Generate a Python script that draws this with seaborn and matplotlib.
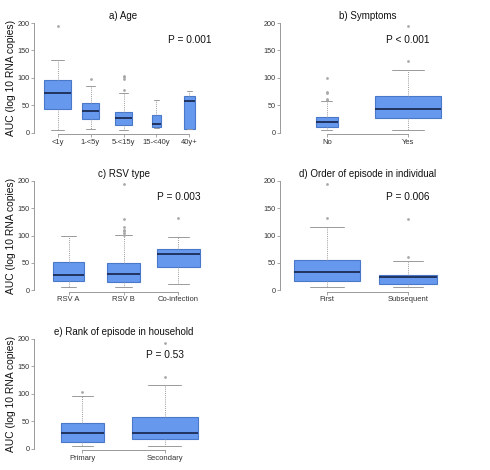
import numpy as np
import pandas as pd
import matplotlib
matplotlib.use("Agg")
import matplotlib.pyplot as plt
import seaborn as sns

# ---------------- data ----------------
# five-number summaries per group: [lower whisker, Q1, median, Q3, upper whisker]
age_cats = ["<1y", "1-<5y", "5-<15y", "15-<40y", "40y+"]
age_stats = [[5.5, 43.8, 71.7, 96.7, 132.5],
             [7.3, 25.5, 38.9, 54.7, 85.7],
             [5.5, 14.6, 26.7, 37.7, 71.7],
             [8.0, 10.5, 16.0, 33.0, 59.0],
             [6.0, 7.5, 58.0, 66.5, 75.5]]
age_out = [[195], [98.5], [104, 101, 98, 77], [], []]

sym_cats = ["No", "Yes"]
sym_stats = [[5.5, 10.3, 20.0, 29.2, 58.4],
             [5.5, 26.1, 43.8, 66.9, 115.0]]
sym_out = [[100, 75, 72, 62, 60], [131, 194]]

rsv_cats = ["RSV A", "RSV B", "Co-infection"]
rsv_stats = [[5.5, 16.5, 27.4, 52.4, 98.8],
             [5.5, 14.6, 29.3, 49.4, 101.0],
             [11.0, 42.7, 66.5, 76.2, 97.0]]
rsv_out = [[], [194, 130, 115, 111, 108, 105, 102], [133]]

ord_cats = ["First", "Subsequent"]
ord_stats = [[5.5, 16.5, 32.9, 56.1, 115.0],
             [5.5, 11.0, 23.8, 27.4, 53.0]]
ord_out = [[133, 194], [61, 130.5]]

rank_cats = ["Primary", "Secondary"]
rank_stats = [[4.9, 12.2, 29.2, 46.2, 96.7],
              [4.9, 17.0, 29.2, 57.1, 115.5]]
rank_out = [[104], [131, 193]]

titles = ["a) Age", "b) Symptoms", "c) RSV type",
          "d) Order of episode in individual", "e) Rank of episode in household"]
pvals = ["P = 0.001", "P < 0.001", "P = 0.003", "P = 0.006", "P = 0.53"]
ylabel = "AUC (log 10 RNA copies)"
yticks = [0, 50, 100, 150, 200]

# ---------------- styling ----------------
age_w = [0.80, 0.50, 0.54, 0.26, 0.35]
sym_w = [0.27, 0.81]
rsv_w = [0.56, 0.60, 0.78]
ord_w = [0.82, 0.72]
rank_w = [0.52, 0.80]

FILL = "#6699ee"
EDGE = "#4a78c8"
MED = "#1c2b55"
WHISK = "#9a9a9a"
SPINE = "#999999"

sns.set_theme(style="white")
plt.rcParams['font.family'] = ['Liberation Sans', 'DejaVu Sans']

fig = plt.figure(figsize=(4.9, 4.7), dpi=100)
positions = [[0.0704, 0.7149, 0.3633, 0.2389],
             [0.5714, 0.7149, 0.3570, 0.2389],
             [0.0704, 0.3794, 0.3633, 0.2385],
             [0.5714, 0.3794, 0.3570, 0.2385],
             [0.0704, 0.0423, 0.3633, 0.2394]]

panels = [(age_cats, age_stats, age_out, age_w),
          (sym_cats, sym_stats, sym_out, sym_w),
          (rsv_cats, rsv_stats, rsv_out, rsv_w),
          (ord_cats, ord_stats, ord_out, ord_w),
          (rank_cats, rank_stats, rank_out, rank_w)]

for i, (cats, stats, outs, widths) in enumerate(panels):
    ax = fig.add_axes(positions[i])
    for c, s, w in zip(cats, stats, widths):
        df = pd.DataFrame({"g": [c] * len(s), "v": s})
        sns.boxplot(data=df, x="g", y="v", order=cats, width=w, whis=(0, 100),
                    ax=ax, showfliers=False,
                    boxprops=dict(facecolor=FILL, edgecolor=EDGE, linewidth=0.8),
                    medianprops=dict(color=MED, linewidth=1.3),
                    whiskerprops=dict(color=WHISK, linestyle=(0, (1, 1.2)), linewidth=0.7),
                    capprops=dict(color=WHISK, linewidth=0.7))
    og = [c for c, o in zip(cats, outs) for _ in o]
    ov = [v for o in outs for v in o]
    if ov:
        sns.stripplot(x=og, y=ov, order=cats, jitter=False, ax=ax,
                      color="#a8a8a8", size=2.0, linewidth=0)
    n = len(cats)
    ax.set_xlim(-0.5 - 0.04 * n, n - 0.5 + 0.04 * n)
    ax.set_ylim(-2.5, 202.5)
    ax.set_yticks(yticks)
    ax.set_xticks(range(n))
    ax.set_xticklabels(cats)
    ax.set_xlabel("")
    if i % 2 == 0:
        ax.set_ylabel(ylabel, fontsize=7.4, color="#111111")
        ax.yaxis.set_label_coords(-0.132, 0.5)
        ax.yaxis.label.set_va("center")
    else:
        ax.set_ylabel("")
    for sp in ["top", "right"]:
        ax.spines[sp].set_visible(False)
    ax.spines["left"].set_bounds(0, 200)
    ax.spines["bottom"].set_bounds(0, n - 1)
    for sp in ["left", "bottom"]:
        ax.spines[sp].set_color(SPINE)
        ax.spines[sp].set_linewidth(0.7)
    ax.tick_params(axis="both", length=2.2, width=0.6, color=SPINE,
                   colors="#333333", pad=1.2, left=True, bottom=True)
    ax.tick_params(axis="x", labelsize=5.5)
    ax.tick_params(axis="y", labelsize=5.2)
    ax.set_title(titles[i], fontsize=7, pad=2, color="#111111")
    ax.text(n - 1, 170, pvals[i], ha="center", va="center", fontsize=7.3, color="#111111")
    ax.grid(False)

fig.savefig("out.png", dpi=100, facecolor="white")
